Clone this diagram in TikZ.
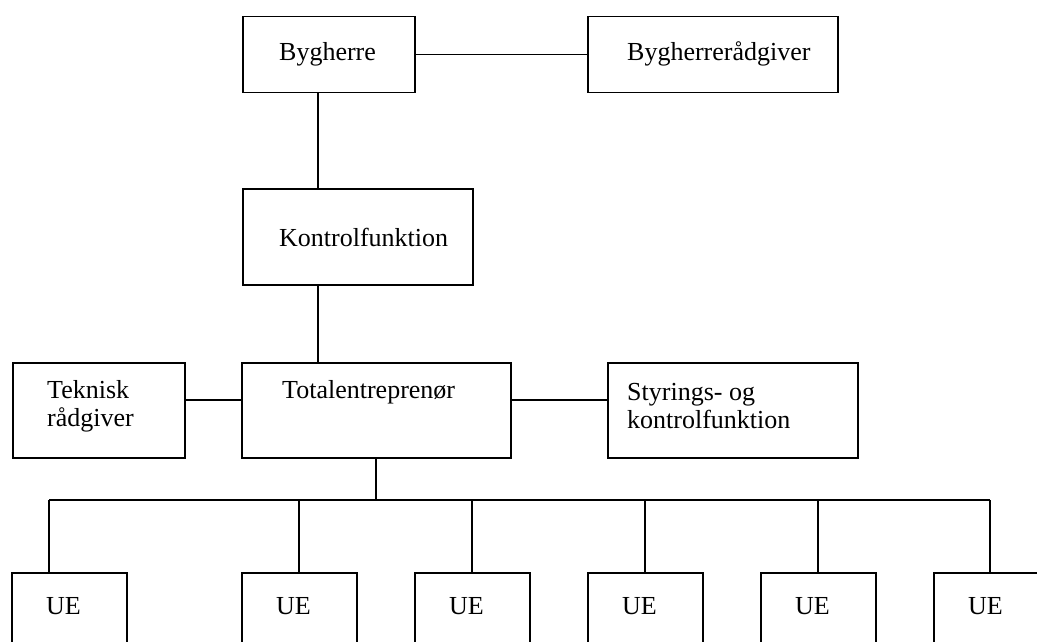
\documentclass[tikz,border=0pt]{standalone}
\usepackage{fontspec}
\setmainfont{Liberation Serif}
\usetikzlibrary{calc,positioning}

\tikzset{
  orgbox/.style={draw, line width=1.5pt, rectangle, inner sep=0pt, anchor=north west},
  orgtxt/.style={inner sep=0pt, align=left, anchor=west, font=\fontsize{26}{28}\selectfont},
  orgline/.style={line width=1.4pt}
}

\begin{document}
\begin{tikzpicture}[x=1pt,y=-1pt]
    \clip (0,0) rectangle (1037,642);

    % boxes
    \node[orgbox, minimum width=172, minimum height=76] (bh) at (242,16) {};
    \node[orgbox, minimum width=250, minimum height=76] (bhr) at (587,16) {};
    \node[orgbox, minimum width=230, minimum height=96] (kon) at (242,188) {};
    \node[orgbox, minimum width=172, minimum height=95] (tek) at (12,362) {};
    \node[orgbox, minimum width=269, minimum height=95] (tot) at (241,362) {};
    \node[orgbox, minimum width=250, minimum height=95] (sty) at (607,362) {};

    % texts
    \node[orgtxt] (bhtxt) at (279,54) {Bygherre};
    \node[orgtxt] (bhrtxt) at (627,54) {Bygherrerådgiver};
    \node[orgtxt] (kontxt) at (279,237) {Kontrolfunktion};
    \node[orgtxt] (tektxt) at (47,406) {Teknisk\\rådgiver};
    \node[orgtxt] (tottxt) at (282,392) {Totalentreprenør};
    \node[orgtxt] (stytxt) at (627,406) {Styrings- og\\kontrolfunktion};

    % connectors
    \coordinate (vm) at (318,0);
    \coordinate (hm) at (0,400);
    \coordinate (td) at (376,0);
    \coordinate (bus) at (0,500);

    \draw[orgline] (bh.east) -- (bhr.west);
    \draw[orgline] (bh.south -| vm) -- (kon.north -| vm);
    \draw[orgline] (kon.south -| vm) -- (tot.north -| vm);
    \draw[orgline] (tek.east |- hm) -- (tot.west |- hm);
    \draw[orgline] (tot.east |- hm) -- (sty.west |- hm);
    \draw[orgline] (tot.south -| td) -- (td |- bus);

    % underentreprenører
    \foreach \i/\l/\d in {1/11/49, 2/241/299, 3/414/472, 4/587/645, 5/760/818, 6/933/990}{
        \node[orgbox, minimum width=115, minimum height=90] (ue\i) at (\l,572) {};
        \node[orgtxt] (uetxt\i) at (\l+35,606) {UE};
        \coordinate (d\i) at (\d,0);
        \draw[orgline] (ue\i.north -| d\i) -- (d\i |- bus);
    }
    \draw[orgline] (d1 |- bus) -- (d6 |- bus);
\end{tikzpicture}
\end{document}
